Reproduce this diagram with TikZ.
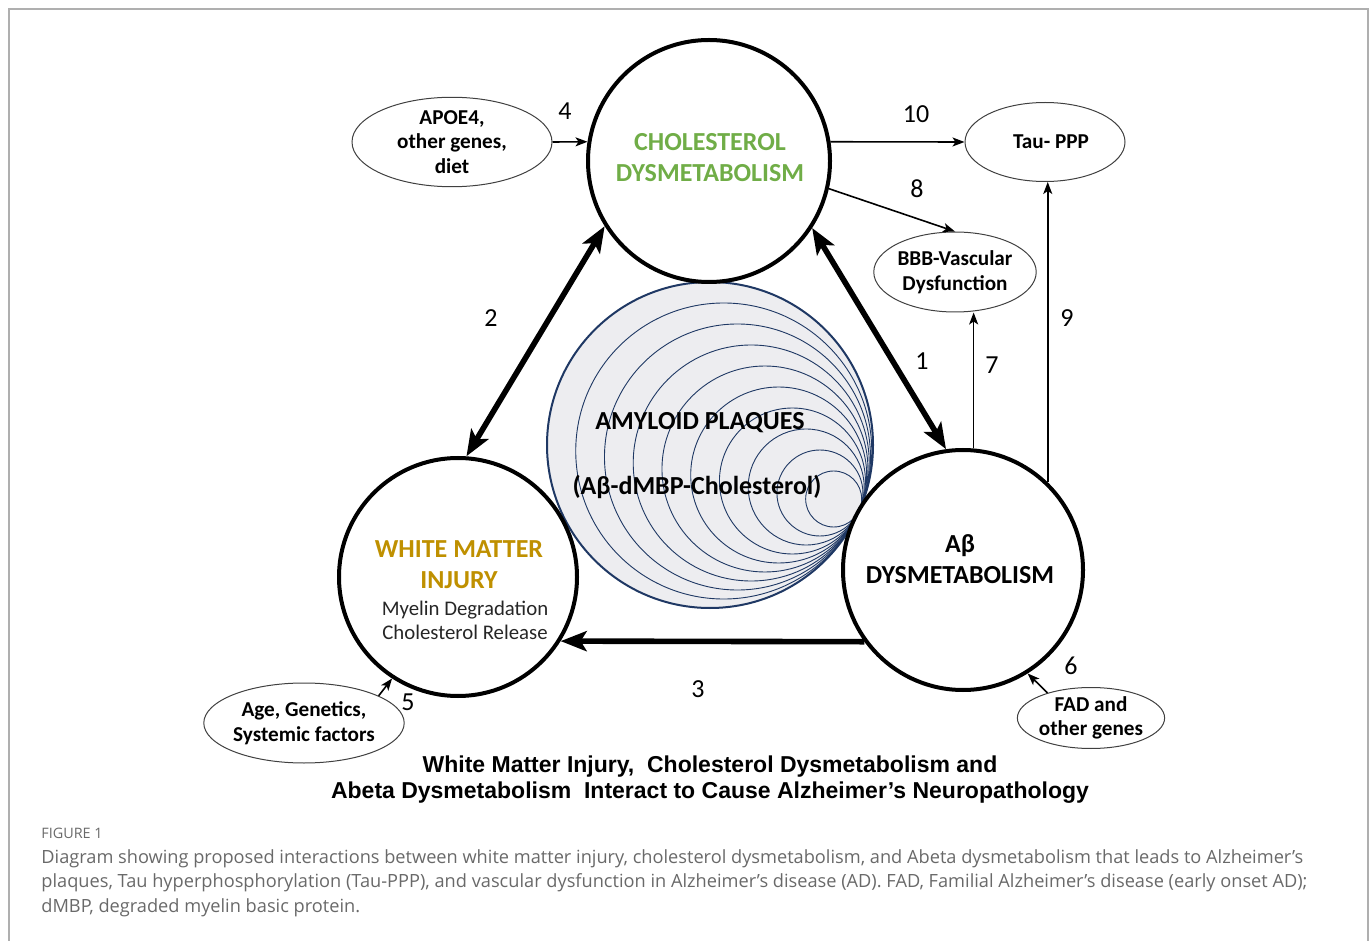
\documentclass[tikz,border=0pt]{standalone}
\usepackage{fontspec}
\setmainfont{Carlito}
\newfontfamily\titlefont{Liberation Sans}
\newfontfamily\capfont{Open Sans}
\usepackage{xcolor}
\usetikzlibrary{shapes.geometric}
\usetikzlibrary{arrows.meta}
\definecolor{cholgreen}{RGB}{112,173,71}
\definecolor{wmgold}{RGB}{191,144,0}
\definecolor{plaqueblue}{RGB}{31,56,100}
\definecolor{plaquefill}{RGB}{237,237,240}
\definecolor{capgray}{RGB}{105,105,105}
\definecolor{framegray}{RGB}{175,175,175}

\tikzset{
  bigcirc/.style={circle, draw, line width=2pt, inner sep=0pt},
  factor/.style={ellipse, draw=black!75, line width=0.5pt, inner sep=0pt, align=center,
    font=\fontsize{10.6}{12.3}\selectfont\bfseries},
  inbig/.style={align=center, font=\fontsize{13}{15.5}\selectfont\bfseries},
  num/.style={font=\fontsize{13}{15}\selectfont},
  fatarrow/.style={line width=2.8pt, {Stealth[length=13pt,width=10pt,inset=3pt]}-{Stealth[length=13pt,width=10pt,inset=3pt]}},
  fatone/.style={line width=2.8pt, -{Stealth[length=13pt,width=10pt,inset=3pt]}},
  thinarrow/.style={line width=0.8pt, -{Stealth[length=6pt,width=4.5pt,inset=1.5pt]}}
}

\begin{document}
\begin{tikzpicture}[x=0.5pt, y=-0.5pt]
\useasboundingbox (0,0) rectangle (1372,941);
\draw [framegray, line width=0.8pt] (9,941) -- (9,9) -- (1368,9) -- (1368,941);

% plaque with its nested rings
\node [circle, draw=plaqueblue, fill=plaquefill, line width=1pt, inner sep=0pt, minimum size=163pt] (plaque) at (710,445) {};
\foreach \r in {148,133,...,28}
  \draw [plaqueblue, line width=0.45pt] ({710+(163-\r)*0.916},{445+(163-\r)*0.4}) circle [radius=0.5pt*\r];
\node [inbig] (plaquetxt) at (700,423) {AMYLOID PLAQUES};
\node [inbig] (plaquesub) at (697,487) {(Aβ-dMBP-Cholesterol)};

% the three main circles
\node [bigcirc, minimum size=121pt] (chol) at (709,161) {};
\node [bigcirc, minimum size=119pt] (wm) at (458,577) {};
\node [bigcirc, minimum size=120pt] (ab) at (963,570) {};
\node [inbig, text=cholgreen] (choltxt) at (710,158) {CHOLESTEROL\\DYSMETABOLISM};
\node [inbig, text=wmgold] (wmtxt) at (459,565) {WHITE MATTER\\INJURY};
\node [align=center, font=\fontsize{10.4}{12}\selectfont, text=black!85] (wmsub) at (465,620) {Myelin Degradation\\Cholesterol Release};
\node [inbig] (abtxt) at (960,559) {Aβ\\DYSMETABOLISM};

% factors and outcomes
\node [factor, minimum width=100pt, minimum height=37.5pt] (apoe) at (452,142) {APOE4,\\other genes,\\diet};
\node [factor, minimum width=80pt, minimum height=39.5pt] (tau) at (1045,142) {\hspace*{6pt}Tau- PPP};
\node [factor, minimum width=77.5pt, minimum height=40pt] (bbb) at (955,272) {BBB-Vascular\\Dysfunction};
\node [factor, minimum width=99pt, minimum height=40pt] (age) at (304,723) {Age, Genetics,\\Systemic factors};
\node [factor, minimum width=73.5pt, minimum height=30.5pt] (fad) at (1091,718) {FAD and\\other genes};

% connectors
\draw [fatarrow] (chol.-33) -- (ab.98);
\draw [fatarrow] (chol.212) -- (wm.86);
\draw [fatone] (ab.216) -- (wm.-32);
\draw [thinarrow] (apoe.east) -- (chol.171);
\draw [thinarrow] (chol.9) -- (tau.west);
\draw [thinarrow] (chol.-13) -- (bbb.north);
\draw [thinarrow] (ab.85) -- (ab.85 |- bbb.south);
\draw [thinarrow] (ab.46) -- (ab.46 |- tau.south);
\draw [thinarrow] (age.20) -- (wm.237);
\draw [thinarrow] (fad.150) -- (ab.-58);

\node [num] (n1) at (922,361) {1};
\node [num] (n2) at (491,318) {2};
\node [num] (n3) at (698,689) {3};
\node [num] (n4) at (565,111) {4};
\node [num] (n5) at (408,702) {5};
\node [num] (n6) at (1071,666) {6};
\node [num] (n7) at (992,365) {7};
\node [num] (n8) at (917,189) {8};
\node [num] (n9) at (1067,318) {9};
\node [num] (n10) at (916,114) {10};

\node [align=center, font=\titlefont\bfseries\fontsize{11.5}{13}\selectfont] (title) at (710,780)
  {White Matter Injury,\ \ Cholesterol Dysmetabolism and\\Abeta Dysmetabolism\ \ Interact to Cause Alzheimer’s Neuropathology};

% caption
\node [anchor=west, inner sep=0pt, font=\capfont\fontsize{7.2}{8}\selectfont, text=capgray] (figlabel) at (41,833) {FIGURE 1};
\node [anchor=north west, inner sep=0pt, align=left, font=\capfont\fontsize{9.1}{12.25}\selectfont, text=capgray] (caption) at (41,849)
  {Diagram showing proposed interactions between white matter injury, cholesterol dysmetabolism, and Abeta dysmetabolism that leads to Alzheimer’s\\
   plaques, Tau hyperphosphorylation (Tau-PPP), and vascular dysfunction in Alzheimer’s disease (AD). FAD, Familial Alzheimer’s disease (early onset AD);\\
   dMBP, degraded myelin basic protein.};
\end{tikzpicture}
\end{document}
